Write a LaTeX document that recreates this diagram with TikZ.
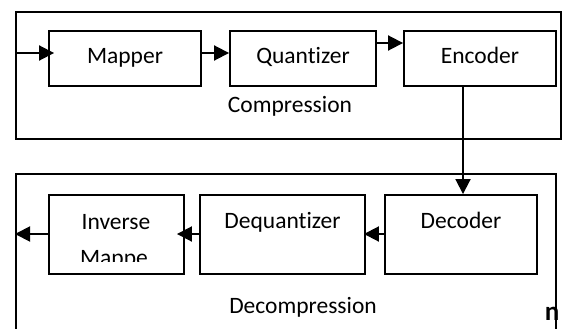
\documentclass[tikz,border=0pt]{standalone}
\usepackage{fontspec}
\setmainfont{Carlito}[Ligatures=NoCommon]
\usetikzlibrary{arrows.meta}
\begin{document}
\begin{tikzpicture}[x=1pt,y=-1pt,
  every node/.style={font=\fontsize{23.5}{27}\selectfont},
  ln/.style={line width=1.9pt},
  topbox/.style={draw,ln,inner sep=0pt,text height=15pt,text depth=5pt,minimum height=55pt},
  botbox/.style={draw,ln,inner sep=0pt,text height=15pt,text depth=28pt,minimum height=79pt},
  arr/.style={ln,-{Triangle[length=15pt,width=15pt]}},
  lbl/.style={anchor=base,inner sep=0pt}]
\useasboundingbox (0,0) rectangle (562,329);
% compression frame
\draw[ln] (16,12) rectangle (561,139);
\node[lbl] (comptxt) at (290,112) {Compression};
% decompression frame (open at bottom)
\draw[ln] (16,329) -- (16,174) -- (556,174) -- (556,329);
\node[lbl] (decomptxt) at (303,313) {Decompression};
% top boxes
\node[topbox,minimum width=152pt] (mapper) at (125,58.5) {Mapper};
\node[topbox,minimum width=146pt] (quant) at (303,58.5) {Quantizer};
\node[topbox,minimum width=152pt] (enc) at (480,58.5) {Encoder};
% bottom boxes
\node[botbox,minimum width=135pt] (inv) at (116.5,234.5) {};
\node[botbox,minimum width=165pt] (dequant) at (282.5,234.5) {Dequantizer};
\node[botbox,minimum width=152pt] (dec) at (461,234.5) {Decoder};
\node[lbl] (invtxt) at (116,229) {Inverse};
\begin{scope}
  \clip (49,195) rectangle (184,261);
  \node[lbl] (maptxt) at (114,265) {Mappe};
\end{scope}
% coordinates
\coordinate (inL) at (16,53);
\coordinate (q2) at (0,43);
\coordinate (v) at (463,0);
\coordinate (outL) at (16,234);
% connectors
\draw[arr,shorten >=-6pt] (inL) -- (inL -| mapper.west);
\draw[arr] (mapper.east |- inL) -- (quant.west |- inL);
\draw[arr] (quant.east |- q2) -- (enc.west |- q2);
\draw[arr] (enc.south -| v) -- (dec.north -| v);
\draw[arr,shorten >=-2pt] (dec.west |- outL) -- (dequant.east |- outL);
\draw[arr,shorten >=-8pt] (dequant.west |- outL) -- (inv.east |- outL);
\draw[arr,shorten >=-1pt] (inv.west |- outL) -- (outL);
% stray glyph
\node[lbl,font=\fontsize{27}{30}\selectfont\bfseries] (nglyph) at (552,320) {n};
\end{tikzpicture}
\end{document}
